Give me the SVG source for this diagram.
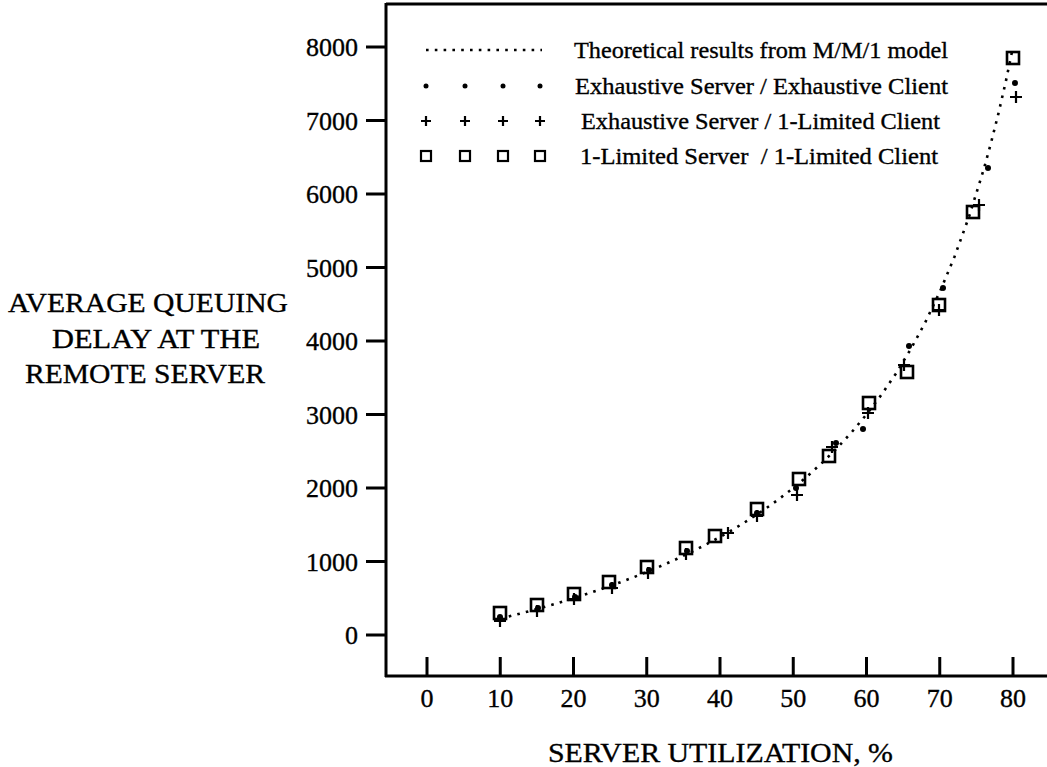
<svg xmlns="http://www.w3.org/2000/svg" width="1047" height="767" viewBox="0 0 1047 767">
<style>
text{font-family:"Liberation Serif","Times New Roman",serif;fill:#000;stroke:#000;stroke-width:0.35}
.num{font-size:26px}
.ylab{text-anchor:end}
.xlab{text-anchor:middle}
.title{font-size:28px}
.leg{font-size:24px;white-space:pre}
.ax{stroke:#000;stroke-width:3;fill:none}
.tick{stroke:#000;stroke-width:3}
.curve{fill:none;stroke:#000;stroke-width:2.6;stroke-dasharray:2.6 6.2}
.sq{fill:none;stroke:#000;stroke-width:2.6}
.pl{stroke:#000;stroke-width:2.2;fill:none}
.dt{fill:#000}
</style>
<defs>
<rect id="msq" x="-6" y="-6" width="12" height="12" class="sq"/>
<path id="mpl" d="M-6,0H6M0,-6V6" class="pl"/>
<circle id="mdt" r="3" class="dt"/>
<rect id="lsq" x="-5" y="-5" width="10" height="10" fill="none" stroke="#000" stroke-width="2.2"/>
<path id="lpl" d="M-5,0H5M0,-5V5" class="pl"/>
<circle id="ldt" r="2.5" class="dt"/>
</defs>

<g id="axes">
<path class="ax" d="M386,3V677M386,4H1047M385,676H1047"/>
<g id="yticks">
<path class="tick" d="M366,47H386M366,120.5H386M366,194H386M366,267.5H386M366,341H386M366,414.5H386M366,488H386M366,561.5H386M366,635H386"/>
<text class="num ylab" x="358" y="56">8000</text>
<text class="num ylab" x="358" y="129.5">7000</text>
<text class="num ylab" x="358" y="203">6000</text>
<text class="num ylab" x="358" y="276.5">5000</text>
<text class="num ylab" x="358" y="350">4000</text>
<text class="num ylab" x="358" y="423.5">3000</text>
<text class="num ylab" x="358" y="497">2000</text>
<text class="num ylab" x="358" y="570.5">1000</text>
<text class="num ylab" x="358" y="644">0</text>
</g>
<g id="xticks">
<path class="tick" d="M427,657V676M500.25,657V676M573.5,657V676M646.75,657V676M720,657V676M793.25,657V676M866.5,657V676M939.75,657V676M1013,657V676"/>
<text class="num xlab" x="427" y="707">0</text>
<text class="num xlab" x="500.25" y="707">10</text>
<text class="num xlab" x="573.5" y="707">20</text>
<text class="num xlab" x="646.75" y="707">30</text>
<text class="num xlab" x="720" y="707">40</text>
<text class="num xlab" x="793.25" y="707">50</text>
<text class="num xlab" x="866.5" y="707">60</text>
<text class="num xlab" x="939.75" y="707">70</text>
<text class="num xlab" x="1013" y="707">80</text>
</g>
</g>

<g id="ytitle">
<text class="title" x="8" y="312" textLength="280" lengthAdjust="spacingAndGlyphs">AVERAGE QUEUING</text>
<text class="title" x="52" y="348" textLength="208" lengthAdjust="spacingAndGlyphs">DELAY AT THE</text>
<text class="title" x="25" y="383" textLength="240" lengthAdjust="spacingAndGlyphs">REMOTE SERVER</text>
</g>
<g id="xtitle">
<text class="title" x="548" y="762" textLength="345" lengthAdjust="spacingAndGlyphs">SERVER UTILIZATION, %</text>
</g>

<g id="legend">
<path class="curve" d="M426,50H542"/>
<text class="leg" x="574" y="58" textLength="374" lengthAdjust="spacingAndGlyphs">Theoretical results from M/M/1 model</text>
<use href="#ldt" x="426" y="86"/><use href="#ldt" x="465" y="86"/><use href="#ldt" x="503" y="86"/><use href="#ldt" x="540" y="86"/>
<text class="leg" x="575" y="94" textLength="373" lengthAdjust="spacingAndGlyphs">Exhaustive Server / Exhaustive Client</text>
<use href="#lpl" x="426" y="121"/><use href="#lpl" x="465" y="121"/><use href="#lpl" x="503" y="121"/><use href="#lpl" x="540" y="121"/>
<text class="leg" x="581" y="129" textLength="359" lengthAdjust="spacingAndGlyphs">Exhaustive Server / 1-Limited Client</text>
<use href="#lsq" x="426" y="156"/><use href="#lsq" x="465" y="156"/><use href="#lsq" x="503" y="156"/><use href="#lsq" x="540" y="156"/>
<text class="leg" x="580" y="164" textLength="358" lengthAdjust="spacingAndGlyphs">1-Limited Server  / 1-Limited Client</text>
</g>

<g id="connectors">
<polyline id="theory" class="curve" points="500.25,618.67 514.9,614.95 529.55,611.07 544.2,607 558.85,602.73 573.5,598.25 588.15,593.54 602.8,588.58 617.45,583.35 632.1,577.83 646.75,572 661.4,565.82 676.05,559.27 690.7,552.31 705.35,544.9 720,537 734.65,528.55 749.3,519.5 763.95,509.78 778.6,499.31 793.25,488 807.9,475.75 822.55,462.43 837.2,447.91 851.85,432 866.5,414.5 881.15,395.16 895.8,373.67 910.45,349.65 925.1,322.62 939.75,292 954.4,257 969.05,216.62 983.7,169.5 991,142.87 998.35,113.82 1005.7,82 1013,47"/>
</g>

<g id="series-exh-exh">
<use href="#mdt" x="500" y="617"/><use href="#mdt" x="538" y="608"/><use href="#mdt" x="575" y="597"/><use href="#mdt" x="612" y="585"/><use href="#mdt" x="649" y="570"/><use href="#mdt" x="687" y="551"/><use href="#mdt" x="757" y="513"/><use href="#mdt" x="796" y="488"/><use href="#mdt" x="836" y="443"/><use href="#mdt" x="863" y="429"/><use href="#mdt" x="909" y="346"/><use href="#mdt" x="943" y="288"/><use href="#mdt" x="988" y="168"/><use href="#mdt" x="1015" y="83"/>
</g>
<g id="series-exh-1lim">
<use href="#mpl" x="500" y="621"/><use href="#mpl" x="537" y="611"/><use href="#mpl" x="574" y="599"/><use href="#mpl" x="612" y="588"/><use href="#mpl" x="648" y="573"/><use href="#mpl" x="686" y="554"/><use href="#mpl" x="728" y="533"/><use href="#mpl" x="757" y="516"/><use href="#mpl" x="797" y="495"/><use href="#mpl" x="832" y="447"/><use href="#mpl" x="868" y="413"/><use href="#mpl" x="904" y="365"/><use href="#mpl" x="939" y="310"/><use href="#mpl" x="979" y="205"/><use href="#mpl" x="1016" y="97"/>
</g>
<g id="series-1lim-1lim">
<use href="#msq" x="500" y="613"/><use href="#msq" x="537" y="605"/><use href="#msq" x="574" y="594"/><use href="#msq" x="609" y="582"/><use href="#msq" x="647" y="567"/><use href="#msq" x="686" y="548"/><use href="#msq" x="715" y="536"/><use href="#msq" x="757" y="509"/><use href="#msq" x="799" y="479"/><use href="#msq" x="829" y="456"/><use href="#msq" x="869" y="403"/><use href="#msq" x="907" y="372"/><use href="#msq" x="939" y="305"/><use href="#msq" x="973" y="212"/><use href="#msq" x="1013" y="58"/>
</g>
</svg>
